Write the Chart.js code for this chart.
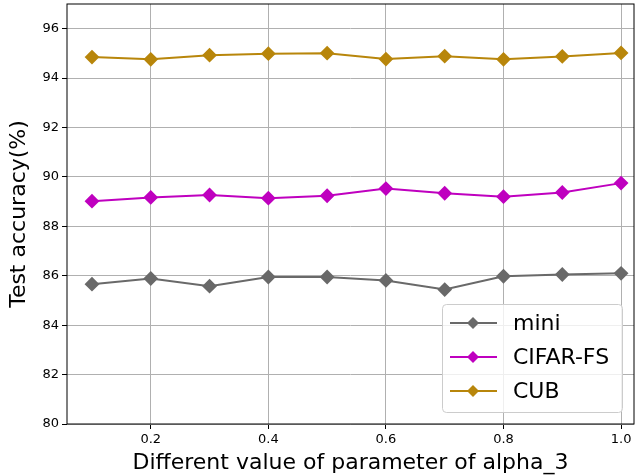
<!DOCTYPE html>
<html>
<head>
<meta charset="utf-8">
<script src="https://cdn.jsdelivr.net/npm/chart.js@4"></script>
<style>
  html, body { margin: 0; padding: 0; background: #fff; }
  #wrap { width: 640px; height: 476px; position: relative; }
</style>
</head>
<body>
<div id="wrap"><canvas id="myChart"></canvas></div>
<script>
// values
const alphaValues = [0.1, 0.2, 0.3, 0.4, 0.5, 0.6, 0.7, 0.8, 0.9, 1.0];
const miniAcc = [85.66, 85.89, 85.58, 85.95, 85.95, 85.81, 85.44, 85.98, 86.05, 86.10];
const cifarAcc = [89.02, 89.17, 89.27, 89.14, 89.24, 89.53, 89.34, 89.20, 89.37, 89.75];
const cubAcc = [94.85, 94.76, 94.93, 94.99, 95.01, 94.77, 94.89, 94.76, 94.88, 95.02];
const xTicks = [0.2, 0.4, 0.6, 0.8, 1.0];
const yTicks = [80, 82, 84, 86, 88, 90, 92, 94, 96];

const seriesNames = ['mini', 'CIFAR-FS', 'CUB'];
const seriesColors = ['#696969', '#bf00bf', '#b8860b'];
const seriesValues = [miniAcc, cifarAcc, cubAcc];

const font = "'DejaVu Sans', sans-serif";

const datasets = seriesNames.map(function(name, i) {
    return {
        label: name,
        data: alphaValues.map(function(x, j) { return {x: x, y: seriesValues[i][j]}; }),
        borderColor: seriesColors[i],
        backgroundColor: seriesColors[i],
        borderWidth: 2,
        pointStyle: 'rectRot',
        pointRadius: 6,
        pointHoverRadius: 6,
        tension: 0
    };
});

// black frame around the plot area + legend inside bottom right
const framePlugin = {
    id: 'frame',
    afterDraw: function(chart) {
        const ctx = chart.ctx;
        const a = chart.chartArea;
        ctx.save();
        ctx.strokeStyle = '#000';
        ctx.lineWidth = 1;
        ctx.strokeRect(a.left, a.top, a.right - a.left, a.bottom - a.top);

        // legend box
        const w = 180, h = 108;
        const x0 = a.right - 12 - w, y0 = a.bottom - 12 - h;
        ctx.fillStyle = 'rgba(255,255,255,0.8)';
        ctx.strokeStyle = '#cccccc';
        ctx.beginPath();
        ctx.roundRect(x0 + 0.5, y0 + 0.5, w, h, 4);
        ctx.fill();
        ctx.stroke();
        ctx.font = '22px ' + font;
        ctx.textBaseline = 'middle';
        for (let i = 0; i < seriesNames.length; i++) {
            const cy = y0 + 19 + i * 34;
            ctx.strokeStyle = seriesColors[i];
            ctx.lineWidth = 2;
            ctx.beginPath();
            ctx.moveTo(x0 + 8, cy);
            ctx.lineTo(x0 + 55, cy);
            ctx.stroke();
            ctx.fillStyle = seriesColors[i];
            ctx.beginPath();
            ctx.moveTo(x0 + 31, cy - 6);
            ctx.lineTo(x0 + 37, cy);
            ctx.lineTo(x0 + 31, cy + 6);
            ctx.lineTo(x0 + 25, cy);
            ctx.closePath();
            ctx.fill();
            ctx.fillStyle = '#000';
            ctx.fillText(seriesNames[i], x0 + 71, cy + 1);
        }
        ctx.restore();
    }
};

const config = {
    type: 'line',
    data: { datasets: datasets },
    options: {
        responsive: true,
        maintainAspectRatio: false,
        animation: false,
        layout: { autoPadding: false, padding: { top: 4, right: 6, left: 0, bottom: 0 } },
        plugins: {
            legend: { display: false },
            tooltip: { enabled: false }
        },
        scales: {
            x: {
                type: 'linear',
                min: 0.0575,
                max: 1.022,
                afterBuildTicks: function(scale) {
                    scale.ticks = xTicks.map(function(v) { return {value: v}; });
                },
                afterFit: function(scale) {
                    scale.height = 52;
                    scale.paddingLeft = 0;
                    scale.paddingRight = 0;
                },
                grid: { color: '#b0b0b0', tickColor: '#000', lineWidth: 1, tickLength: 5, drawTicks: true },
                border: { display: false },
                ticks: {
                    color: '#000',
                    font: { family: font, size: 13 },
                    maxRotation: 0,
                    padding: 3,
                    callback: function(v) { return v.toFixed(1); }
                },
                title: {
                    display: true,
                    text: 'Different value of parameter of alpha_3',
                    color: '#000',
                    font: { family: font, size: 22 },
                    padding: { top: 0, bottom: 0 }
                }
            },
            y: {
                min: 80,
                max: 97,
                afterBuildTicks: function(scale) {
                    scale.ticks = yTicks.map(function(v) { return {value: v}; });
                },
                afterFit: function(scale) {
                    scale.width = 67;
                    scale.paddingTop = 0;
                    scale.paddingBottom = 0;
                },
                grid: { color: '#b0b0b0', tickColor: '#000', lineWidth: 1, tickLength: 5, drawTicks: true },
                border: { display: false },
                ticks: {
                    color: '#000',
                    font: { family: font, size: 13 },
                    padding: 3
                },
                title: {
                    display: true,
                    text: 'Test accuracy(%)',
                    color: '#000',
                    font: { family: font, size: 22 },
                    padding: { top: 6, bottom: 4 }
                }
            }
        }
    },
    plugins: [framePlugin]
};

var myChart = new Chart(document.getElementById('myChart'), config);
</script>
</body>
</html>
